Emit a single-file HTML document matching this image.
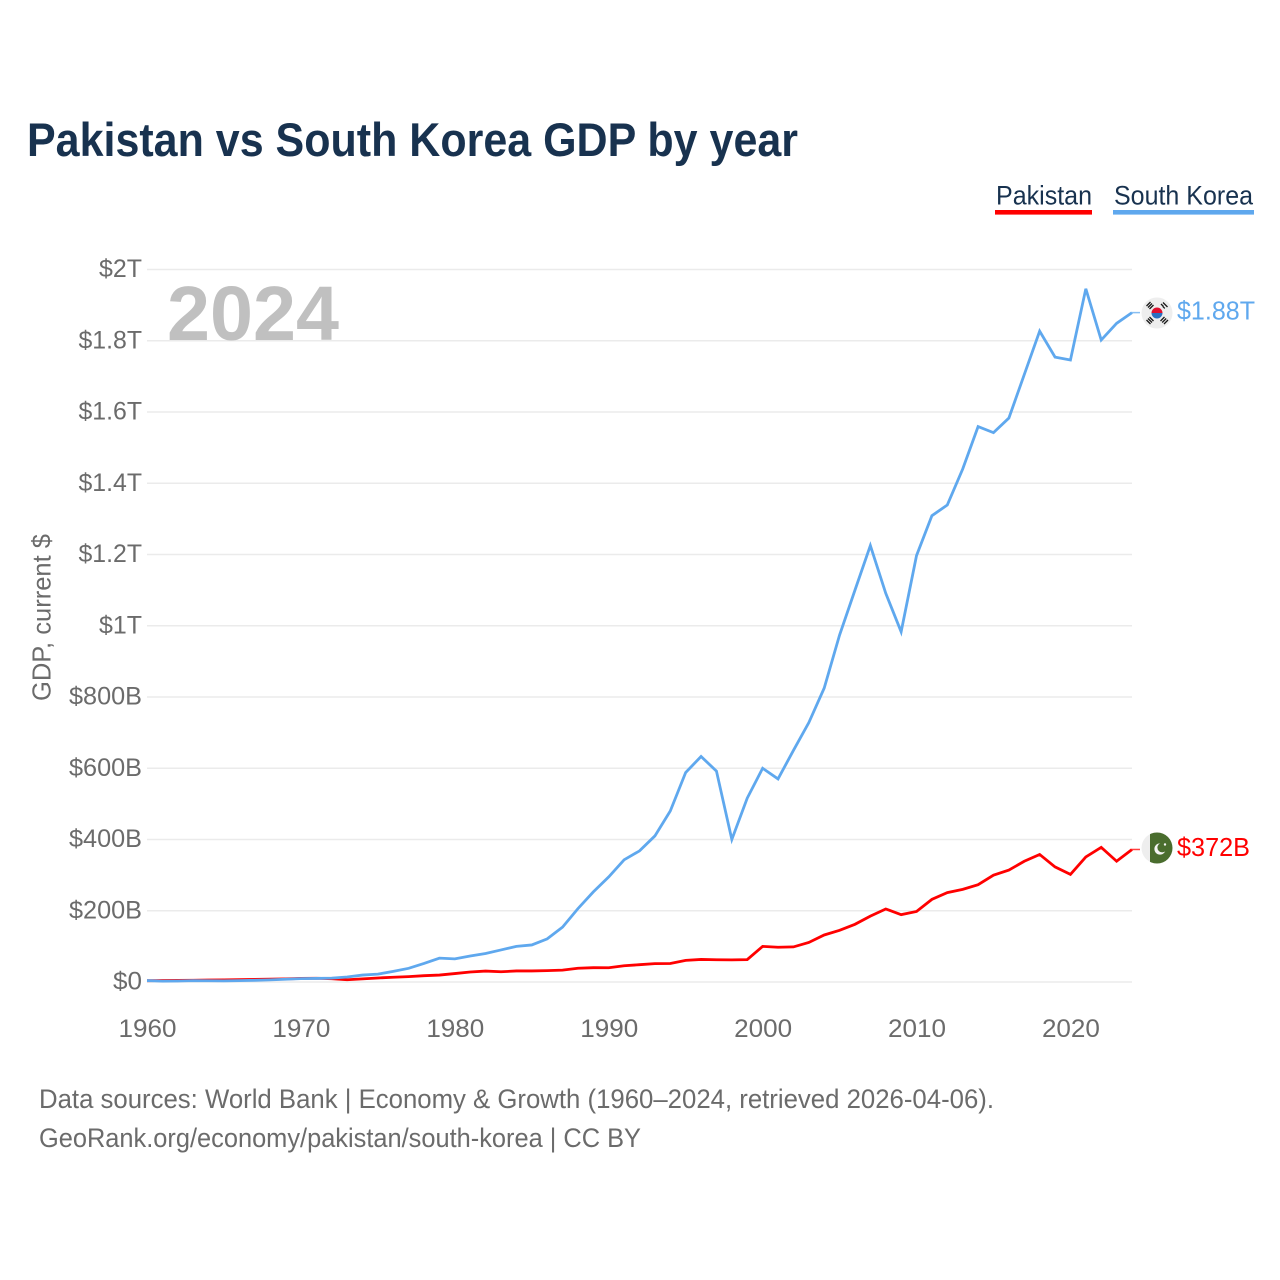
<!DOCTYPE html>
<html lang="en">
<head>
<meta charset="utf-8">
<title>Pakistan vs South Korea GDP by year</title>
<style>
html,body{margin:0;padding:0;background:#fff;}
svg{display:block;font-family:"Liberation Sans",sans-serif;}
</style>
</head>
<body>
<svg id="chart" xmlns="http://www.w3.org/2000/svg" width="1280" height="1280" viewBox="0 0 1280 1280">
  <rect x="0" y="0" width="1280" height="1280" fill="#ffffff"/>
  <text x="27" y="156" font-size="47" font-weight="700" fill="#18324f" textLength="771" lengthAdjust="spacingAndGlyphs">Pakistan vs South Korea GDP by year</text>

  <g>
    <g>
      <text x="996" y="204.5" font-size="27" fill="#18324f" textLength="96" lengthAdjust="spacingAndGlyphs">Pakistan</text>
      <rect x="995" y="210" width="97" height="4.6" fill="#ff0000"/>
    </g>
    <g>
      <text x="1114" y="204.5" font-size="27" fill="#18324f" textLength="139" lengthAdjust="spacingAndGlyphs">South Korea</text>
      <rect x="1113" y="210" width="141" height="4.6" fill="#5fa8ee"/>
    </g>
  </g>

  <g id="grid"></g>
  <text x="167" y="340" font-size="77" font-weight="700" fill="#c0c0c0" textLength="172" lengthAdjust="spacingAndGlyphs">2024</text>
  <g id="yticks"></g>
  <g id="xticks"></g>
  <text transform="translate(50.5,701) rotate(-90)" font-size="26" fill="#6b6b6b" textLength="167" lengthAdjust="spacingAndGlyphs">GDP, current $</text>
  <g id="series"></g>
  <g id="endlabels"></g>

  <defs>
    <clipPath id="flag-clip-pk"><circle cx="1157" cy="848" r="15.5"/></clipPath>
  </defs>
  <g>
    <circle cx="1157" cy="313" r="15.5" fill="#eeeeee"/>
    <path d="M1151.5 313a5.5 5.5 0 0 1 11 0z" fill="#e0102f"/>
    <path d="M1151.5 313a5.5 5.5 0 0 0 11 0z" fill="#2a6fc0"/>
    <g stroke="#1a1a1a" stroke-width="1.3" fill="none">
      <path d="M1146.5 306l4-4M1148 307.5l4-4M1149.5 309l4-4"/>
      <path d="M1161 304l2.5 2.5M1163 302.5l2 2M1165 304.5l2.5 2.5M1162.8 306.4l2 2"/>
      <path d="M1146.5 320l4 4M1148 318.5l4 4M1149.5 317l4 4"/>
      <path d="M1160.5 321l4-4M1162.2 322.5l4-4M1164 324l4-4"/>
    </g>
  </g>
  <g>
    <circle cx="1157" cy="848" r="15.5" fill="#eeeeee"/>
    <rect x="1150" y="832" width="24" height="32" fill="#4a6d2e" clip-path="url(#flag-clip-pk)"/>
    <circle cx="1160" cy="849" r="5.6" fill="#f4f4f4"/>
    <circle cx="1162.2" cy="847.6" r="4.8" fill="#4a6d2e"/>
    <circle cx="1165" cy="844.5" r="1.2" fill="#f4f4f4"/>
  </g>

  <g>
    <text x="39" y="1108" font-size="26.5" fill="#6b6b6b" textLength="955" lengthAdjust="spacingAndGlyphs">Data sources: World Bank | Economy &amp; Growth (1960–2024, retrieved 2026-04-06).</text>
    <text x="39" y="1147" font-size="26.5" fill="#6b6b6b" textLength="602" lengthAdjust="spacingAndGlyphs">GeoRank.org/economy/pakistan/south-korea | CC BY</text>
  </g>
</svg>
<script>
const startYear = 1960;
const endYear = 2024;
const maxValue = 2000;
const xTickYears = [1960, 1970, 1980, 1990, 2000, 2010, 2020];
const yTickValues = [0, 200, 400, 600, 800, 1000, 1200, 1400, 1600, 1800, 2000];
const yTickLabels = ["$0", "$200B", "$400B", "$600B", "$800B", "$1T", "$1.2T", "$1.4T", "$1.6T", "$1.8T", "$2T"];
// GDP in billions of current US$, one value per year from 1960 to 2024
const pakistanValues = [3.7,4.2,4.4,4.9,5.5,6,6.7,7.4,8,8.7,10,10.6,9.3,6.3,8.8,11.3,13.3,15.1,17.7,19.5,23.7,28,30.7,28.7,31,31,31.9,33.4,38.5,40.2,40,45.5,48.6,51.5,52,60.6,63.3,62.4,62.2,62.9,100,97.5,98.5,111,132,145,162,185,205,189,198,232,251,260,273,300,314,339,358,323,302,351,378,339,372];
const southKoreaValues = [4,2.4,2.8,3.9,3.5,3.1,3.8,4.7,6,7.7,9.4,10,10.9,14.1,19.5,22,29.8,38.4,52,67,65,73,80,90,100,104,121,154,206,253,295,343,368,410,480,588,633,592,400,516,600,570,650,728,825,974,1100,1225,1091,983,1197,1309,1339,1440,1559,1542,1583,1705,1827,1754,1746,1946,1802,1849,1879];
const pakistanEndLabel = "$372B";
const southKoreaEndLabel = "$1.88T";

const SVG_NS = "http://www.w3.org/2000/svg";
function xScale(year) {
  return 147 + (year - startYear) * (985 / (endYear - startYear));
}
function yScale(value) {
  return 982 - value * (712.5 / maxValue);
}
function labelWidth(text) {
  let w = 0;
  for (const ch of text) {
    if (ch === ".") w += 6;
    else if (ch === "T") w += 14;
    else if (ch === "B") w += 15;
    else w += 14.5;
  }
  return w;
}
function makeText(parent, content, x, y, size, fill, anchor) {
  const t = document.createElementNS(SVG_NS, "text");
  t.textContent = content;
  t.setAttribute("x", x);
  t.setAttribute("y", y);
  t.setAttribute("font-size", size);
  t.setAttribute("fill", fill);
  t.setAttribute("text-anchor", anchor);
  t.setAttribute("textLength", labelWidth(content));
  t.setAttribute("lengthAdjust", "spacingAndGlyphs");
  parent.appendChild(t);
  return t;
}
function seriesPath(values) {
  return values.map(function (v, i) {
    return (i === 0 ? "M" : "L") + xScale(startYear + i).toFixed(2) + " " + yScale(v).toFixed(2);
  }).join(" ");
}

const gridGroup = document.getElementById("grid");
const yTickGroup = document.getElementById("yticks");
yTickValues.forEach(function (v, i) {
  const line = document.createElementNS(SVG_NS, "line");
  line.setAttribute("x1", xScale(startYear));
  line.setAttribute("x2", xScale(endYear));
  line.setAttribute("y1", yScale(v));
  line.setAttribute("y2", yScale(v));
  line.setAttribute("stroke", "#ebebeb");
  line.setAttribute("stroke-width", "1.5");
  
  
  gridGroup.appendChild(line);
  const label = makeText(yTickGroup, yTickLabels[i], 142, yScale(v) + 7.5, 25, "#6b6b6b", "end");
  
  
});

const xTickGroup = document.getElementById("xticks");
xTickYears.forEach(function (year) {
  const label = makeText(xTickGroup, String(year), xScale(year) + 0.5, 1037, 25, "#6b6b6b", "middle");
  
  
});

const seriesGroup = document.getElementById("series");
const pakistanLine = document.createElementNS(SVG_NS, "path");
pakistanLine.setAttribute("d", seriesPath(pakistanValues));
pakistanLine.setAttribute("fill", "none");
pakistanLine.setAttribute("stroke", "#ff0000");
pakistanLine.setAttribute("stroke-width", "2.8");
pakistanLine.setAttribute("stroke-linejoin", "miter");


seriesGroup.appendChild(pakistanLine);

const koreaLine = document.createElementNS(SVG_NS, "path");
koreaLine.setAttribute("d", seriesPath(southKoreaValues));
koreaLine.setAttribute("fill", "none");
koreaLine.setAttribute("stroke", "#5fa8ee");
koreaLine.setAttribute("stroke-width", "2.8");
koreaLine.setAttribute("stroke-linejoin", "miter");


seriesGroup.appendChild(koreaLine);

const pakistanLast = pakistanValues[pakistanValues.length - 1];
const koreaLast = southKoreaValues[southKoreaValues.length - 1];

const pakistanConnector = document.createElementNS(SVG_NS, "line");
pakistanConnector.setAttribute("x1", xScale(endYear));
pakistanConnector.setAttribute("x2", xScale(endYear) + 8);
pakistanConnector.setAttribute("y1", yScale(pakistanLast));
pakistanConnector.setAttribute("y2", yScale(pakistanLast));
pakistanConnector.setAttribute("stroke", "#ff0000");
pakistanConnector.setAttribute("stroke-width", "1.5");
pakistanConnector.setAttribute("stroke-opacity", "0.75");


seriesGroup.appendChild(pakistanConnector);

const koreaConnector = document.createElementNS(SVG_NS, "line");
koreaConnector.setAttribute("x1", xScale(endYear));
koreaConnector.setAttribute("x2", xScale(endYear) + 8);
koreaConnector.setAttribute("y1", yScale(koreaLast));
koreaConnector.setAttribute("y2", yScale(koreaLast));
koreaConnector.setAttribute("stroke", "#5fa8ee");
koreaConnector.setAttribute("stroke-width", "1.5");
koreaConnector.setAttribute("stroke-opacity", "0.75");


seriesGroup.appendChild(koreaConnector);

const endGroup = document.getElementById("endlabels");
const koreaEnd = makeText(endGroup, southKoreaEndLabel, 1177, yScale(koreaLast) + 7, 26, "#5fa8ee", "start");


const pakistanEnd = makeText(endGroup, pakistanEndLabel, 1177, yScale(pakistanLast) + 6.5, 26, "#ff0000", "start");


</script>
</body>
</html>
